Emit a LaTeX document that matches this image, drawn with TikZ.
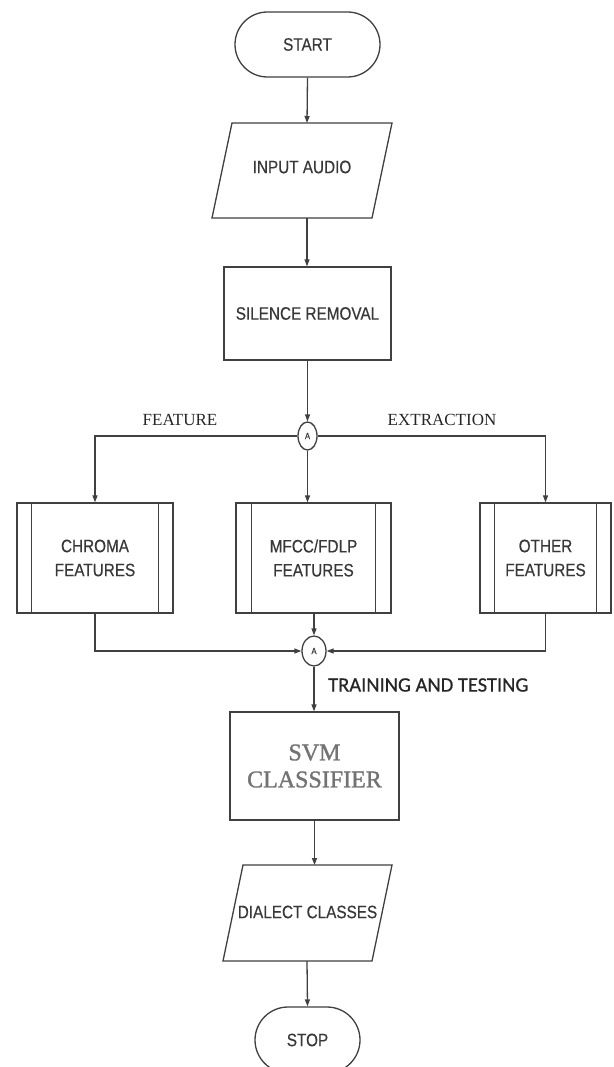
\documentclass[tikz,border=0pt]{standalone}
\usepackage{fontspec}
\setmainfont{Liberation Serif}
\newfontfamily\sansf[FakeStretch=0.85,FakeBold=0.4]{Liberation Sans}
\newfontfamily\calib[FakeBold=0.6]{Carlito}
\newfontfamily\svmfont[FakeBold=1.2]{Liberation Serif}
\usetikzlibrary{shapes.misc,shapes.geometric,arrows.meta}
\begin{document}
\begin{tikzpicture}[x=1pt,y=-1pt,
  ln/.style={draw=black!75, line width=1.3pt},
  arr/.style={ln, -{Triangle[length=7pt,width=5pt]}},
  sanstxt/.style={font=\sansf\fontsize{18}{24}\selectfont, text=black!78, align=center},
  term/.style={rounded rectangle, ln, fill=white, minimum height=65pt, inner sep=0pt, sanstxt},
  proc/.style={rectangle, ln, fill=white, inner sep=0pt, sanstxt},
  conn/.style={ellipse, ln, fill=white, inner sep=0pt, font=\sansf\fontsize{9}{9}\selectfont, text=black!78},
  lbl/.style={font=\fontsize{17}{20}\selectfont, text=black!85, inner sep=0pt},
  svmtxt/.style={font=\svmfont\fontsize{24}{27}\selectfont, text=black!55, align=center}
]
\useasboundingbox[fill=white] (0,0) rectangle (613,1067);

% START
\node[term, minimum width=145pt] (start) at (307.5,44.5) {START};

% INPUT AUDIO parallelogram
\coordinate (inNW) at (232,123);
\coordinate (inNE) at (392,123);
\coordinate (inSE) at (372,218);
\coordinate (inSW) at (212,218);
\draw[ln, fill=white] (inNW) -- (inNE) -- (inSE) -- (inSW) -- cycle;
\node[sanstxt] (input) at (302,167) {INPUT AUDIO};
\coordinate (inN) at (307,123);
\coordinate (inS) at (307,218);

% SILENCE REMOVAL
\node[proc, minimum width=167pt, minimum height=93pt] (sil) at (307.5,313.5) {SILENCE REMOVAL};

% first connector
\node[conn, minimum width=19pt, minimum height=28pt] (a1) at (307.5,436) {A};
\node[lbl] (featlbl) at (180,420) {FEATURE};
\node[lbl] (extlbl) at (442,420) {EXTRACTION};

% feature boxes
\node[proc, minimum width=156pt, minimum height=110pt] (ch) at (95,558) {CHROMA\\FEATURES};
\node[proc, minimum width=155pt, minimum height=110pt] (mf) at (313.5,558) {MFCC/FDLP\\FEATURES};
\node[proc, minimum width=131pt, minimum height=110pt] (ot) at (545.5,558) {OTHER\\FEATURES};
\foreach \b/\d in {ch/15, mf/16, ot/15}{
  \draw[ln] ([xshift=\d pt]\b.north west) -- ([xshift=\d pt]\b.south west);
  \draw[ln] ([xshift=-\d pt]\b.north east) -- ([xshift=-\d pt]\b.south east);
}

% second connector
\node[conn, minimum width=24pt, minimum height=30pt] (a2) at (314,651) {A};
\node[font=\calib\fontsize{20.5}{24}\selectfont, text=black!85, anchor=west, inner sep=0pt] (trlbl) at (328,685) {TRAINING AND TESTING};

% SVM
\node[proc, minimum width=169pt, minimum height=108pt, svmtxt] (svm) at (314.5,766) {SVM\\CLASSIFIER};

% DIALECT CLASSES parallelogram
\coordinate (dcNW) at (243,865);
\coordinate (dcNE) at (392,865);
\coordinate (dcSE) at (372,961);
\coordinate (dcSW) at (223,961);
\draw[ln, fill=white] (dcNW) -- (dcNE) -- (dcSE) -- (dcSW) -- cycle;
\node[sanstxt] (dialect) at (307.5,912) {DIALECT CLASSES};
\coordinate (dcN) at (314.5,865);
\coordinate (dcS) at (307,961);

% STOP
\node[term, minimum width=105pt, minimum height=66pt] (stop) at (307.5,1040) {STOP};

% connectors
\draw[arr] (start.south) -- (inN);
\draw[arr] (inS) -- (sil.north -| inS);
\draw[arr] (sil.south -| a1.north) -- (a1.north);
\draw[arr] (a1.west) -| (ch.north);
\draw[arr] (a1.east) -| (ot.north);
\draw[arr] (a1.south) -- (a1.south |- mf.north);
\draw[arr] (ch.south) |- (a2.west);
\draw[arr] (ot.south) |- (a2.east);
\draw[arr] (mf.south -| a2.north) -- (a2.north);
\draw[arr] (a2.south) -- (a2.south |- svm.north);
\draw[arr] (svm.south) -- (dcN);
\draw[arr] (dcS) -- (stop.north);
\end{tikzpicture}
\end{document}
